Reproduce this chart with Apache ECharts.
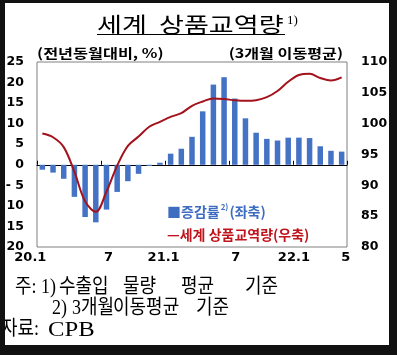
<!DOCTYPE html>
<html>
<head>
<meta charset="utf-8">
<script src="https://cdn.jsdelivr.net/npm/echarts@6/dist/echarts.min.js"></script>
<style>
html,body{margin:0;padding:0;background:#fff;}
#c{width:397px;height:355px;}
</style>
</head>
<body>
<div id="c"></div>
<script>
// categories (months, 2020.1 ~ 2022.5)
var categories = ['20.1','2','3','4','5','6','7','8','9','10','11','12',
                  '21.1','2','3','4','5','6','7','8','9','10','11','12',
                  '22.1','2','3','4','5'];
// 증감률 (전년동월대비, %, 3개월 이동평균) - left axis
var changeRate = [-1.2,-1.9,-3.4,-7.8,-12.7,-14.0,-10.9,-6.6,-4.0,-2.2,-0.3,0.5,
                  2.7,3.9,6.8,13.0,19.5,21.3,16.1,11.3,7.8,6.3,5.9,6.6,
                  6.6,6.5,4.5,3.4,3.2];
// 세계 상품교역량 (3개월 이동평균) - right axis
var tradeVolume = [98.4,97.8,96.2,92.2,87.4,85.7,89.0,93.2,96.4,97.9,99.5,100.3,
                   101.1,101.7,102.9,103.6,104.1,104.0,103.8,103.7,103.8,104.3,105.3,106.8,
                   107.9,108.1,107.4,107.0,107.5];
var shownLabelIdx = [0,6,12,18,24,28];
var leftTicks = {min:-20,max:25,interval:5};
var rightTicks = {min:80,max:110,interval:5};

var chart = echarts.init(document.getElementById('c'), null, {renderer:'canvas'});
var numFont = 'DejaVu Sans';
var krFont = "'Noto Sans CJK KR'";
var serifKr = "'Liberation Serif','Noto Sans CJK KR'";

// per-label nudges of the month labels (rich style name per shown index)
var labelStyleByIdx = {0:'a',6:'b',12:'c',18:'d',24:'e',28:'f'};
function lbl(pad){return {fontFamily:numFont,fontWeight:'bold',fontSize:13,color:'#000',padding:pad};}

function txt(x,y,text,font,opts){
  opts = opts||{};
  return {type:'text',x:x,y:y,scaleX:opts.sx||1,scaleY:opts.sy||1,z:opts.z||5,
    style:{text:text,font:font,fill:opts.fill||'#000',
      textAlign:opts.align||'left',align:opts.align||'left',
      textVerticalAlign:'middle',verticalAlign:'middle',rich:opts.rich}};
}
var noteFont = 'normal 18px '+serifKr;
var noteOpt = {sy:1.12};

var option = {
  animation:false,
  backgroundColor:'#fff',
  grid:{left:37,right:50,top:62,bottom:108,containLabel:false,outerBoundsMode:'none',
        show:true,borderColor:'#808080',borderWidth:1,backgroundColor:'transparent'},
  xAxis:[{
    type:'category',data:categories,position:'bottom',boundaryGap:true,
    axisLine:{show:false,onZero:false},axisTick:{show:false},
    axisLabel:{
      interval:function(i){return shownLabelIdx.indexOf(i)>=0;},
      margin:4,color:'#000',fontFamily:numFont,fontWeight:'bold',fontSize:13,
      formatter:function(v,i){return '{'+(labelStyleByIdx[i]||'b')+'|'+v+'}';},
      rich:{a:lbl([0,24,0,0]),b:lbl([0,0,0,4]),c:lbl([0,14,0,0]),d:lbl([0,0,0,2]),e:lbl([0,10,0,0]),f:lbl([0,0,0,8])}
    },
    splitLine:{show:false}
  },{
    type:'category',data:categories,position:'bottom',boundaryGap:true,
    axisLine:{show:true,onZero:true,onZeroAxisIndex:0,lineStyle:{color:'#000',width:1}},
    axisTick:{show:true,interval:5,inside:true,length:4,lineStyle:{color:'#000',width:1}},
    axisLabel:{show:false},splitLine:{show:false}
  }],
  yAxis:[{
    type:'value',min:leftTicks.min,max:leftTicks.max,interval:leftTicks.interval,position:'left',
    axisLine:{show:false},axisTick:{show:false},splitLine:{show:false},
    axisLabel:{margin:13,color:'#000',fontFamily:numFont,fontWeight:'bold',fontSize:12.5,
      formatter:function(v){return v<0?'- '+(-v):String(v);}}
  },{
    type:'value',min:rightTicks.min,max:rightTicks.max,interval:rightTicks.interval,position:'right',
    axisLine:{show:false},axisTick:{show:false},splitLine:{show:false},
    axisLabel:{margin:14,color:'#000',fontFamily:numFont,fontWeight:'bold',fontSize:12.5}
  }],
  series:[{
    name:'증감률',type:'bar',xAxisIndex:0,yAxisIndex:0,data:changeRate,
    barWidth:5.5,itemStyle:{color:'#4472c4'},z:2
  },{
    name:'세계 상품교역량',type:'line',xAxisIndex:0,yAxisIndex:1,data:tradeVolume,
    smooth:0.35,symbol:'none',lineStyle:{color:'#a3131c',width:2},z:3
  }],
  graphic:[
    // title
    txt(97,24,'세계  상품교역량','normal 21px '+krFont,{sx:1.29}),
    txt(287,21,'1)','normal 13px '+serifKr),
    {type:'line',shape:{x1:97,y1:34.5,x2:285,y2:34.5},style:{stroke:'#000',lineWidth:1}},
    // axis names
    txt(37,53,'(전년동월대비, %)','bold 13px '+krFont,{sx:1.25}),
    txt(343,53,'(3개월 이동평균)','bold 13px '+krFont,{sx:1.24,align:'right'}),
    // legend
    txt(167,212,'{a|■증감률}{s|2)}{a|(좌축)}','bold 14px '+krFont,{z:10,fill:'#3d6cc0',
      rich:{a:{font:'bold 14px '+krFont,fill:'#3d6cc0',color:'#3d6cc0'},s:{font:'bold 8px '+krFont,fill:'#3d6cc0',color:'#3d6cc0',padding:[0,1,10,1]}}}),
    txt(167,235,'—세계 상품교역량(우축)','bold 14px '+krFont,{z:10,fill:'#c0141c'}),
    // notes
    txt(15,288,'주:',noteFont,noteOpt),
    txt(41,288,'1)',noteFont,noteOpt),
    txt(59,288,'수출입',noteFont,noteOpt),
    txt(123,288,'물량',noteFont,noteOpt),
    txt(181,288,'평균',noteFont,noteOpt),
    txt(245,288,'기준',noteFont,noteOpt),
    txt(52,309,'2)',noteFont,noteOpt),
    txt(72,309,'3개월',noteFont,noteOpt),
    txt(113,309,'이동평균',noteFont,noteOpt),
    txt(196,309,'기준',noteFont,noteOpt),
    txt(1,330,'자료:',noteFont,noteOpt),
    txt(48,330,'CPB','normal 19px '+serifKr,{sx:1.3,sy:1.12}),
    // dark frame of the picture
    {type:'rect',z:100,shape:{x:0,y:0,width:5,height:355},style:{fill:'#111'}},
    {type:'rect',z:100,shape:{x:0,y:0,width:397,height:3},style:{fill:'#111'}},
    {type:'rect',z:100,shape:{x:389,y:0,width:8,height:355},style:{fill:'#111'}},
    {type:'rect',z:100,shape:{x:0,y:345,width:397,height:10},style:{fill:'#111'}}
  ]
};
chart.setOption(option);
</script>
</body>
</html>
